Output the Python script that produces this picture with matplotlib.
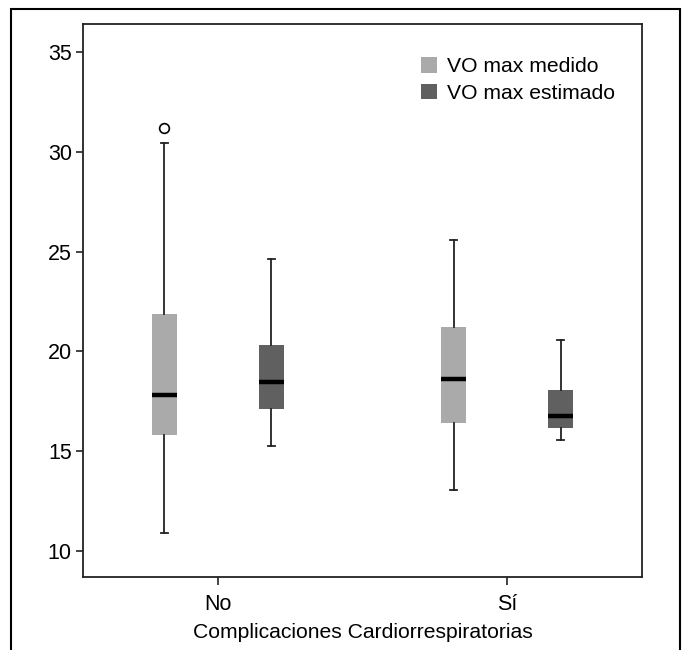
#!/usr/bin/env python3
"""Boxplot: VO max medido vs estimado por complicaciones cardiorrespiratorias."""

import matplotlib
matplotlib.use("Agg")
import matplotlib.pyplot as plt
from matplotlib.patches import Patch, Rectangle

plt.rcParams["font.family"] = ["Liberation Sans", "DejaVu Sans"]

categories = ["No", "Sí"]
series = ["VO max medido", "VO max estimado"]
colors = ["#aaaaaa", "#606060"]

# whislo, q1, med, q3, whishi per category
medido_stats = [
    [10.9, 15.8, 17.8, 21.85, 30.45],
    [13.05, 16.4, 18.6, 21.2, 25.57],
]
estimado_stats = [
    [15.25, 17.1, 18.45, 20.3, 24.65],
    [15.55, 16.17, 16.77, 18.05, 20.57],
]
medido_outliers = [[31.2], []]
estimado_outliers = [[], []]


def to_bxp(stats, outliers):
    out = []
    for (lo, q1, med, q3, hi), fl in zip(stats, outliers):
        out.append(dict(whislo=lo, q1=q1, med=med, q3=q3, whishi=hi, fliers=fl))
    return out


fig = plt.figure(figsize=(6.83, 6.5), dpi=100)
ax = fig.add_axes([0.1215, 0.1123, 0.8185, 0.8508])

offset = 0.185
width = 0.087
all_stats = [(medido_stats, medido_outliers), (estimado_stats, estimado_outliers)]
for i, (stats, outl) in enumerate(all_stats):
    pos = [k + (-offset if i == 0 else offset) for k in range(len(categories))]
    ax.bxp(
        to_bxp(stats, outl),
        positions=pos,
        widths=width,
        patch_artist=True,
        capwidths=0.022,
        boxprops=dict(facecolor=colors[i], edgecolor="none", linewidth=0),
        medianprops=dict(color="black", linewidth=3.2, solid_capstyle="butt"),
        whiskerprops=dict(color="#222222", linewidth=1.3),
        capprops=dict(color="#222222", linewidth=1.3),
        flierprops=dict(marker="o", markerfacecolor="white", markeredgecolor="black",
                        markersize=7, markeredgewidth=1.2),
        manage_ticks=False,
    )

ax.set_xlim(-0.467, 1.467)
ax.set_ylim(8.7, 36.4)
ax.set_xticks(range(len(categories)))
ax.set_xticklabels(categories)
ax.set_yticks([10, 15, 20, 25, 30, 35])
ax.tick_params(axis="both", direction="out", labelsize=15.5, width=1.2, color="#222222")
ax.tick_params(axis="y", length=5, pad=3)
ax.tick_params(axis="x", length=6, pad=6)
for sp in ax.spines.values():
    sp.set_linewidth(1.3)
    sp.set_color("#222222")
ax.set_xlabel("Complicaciones Cardiorrespiratorias", fontsize=15.2, labelpad=6)

handles = [Patch(facecolor=c, edgecolor="none", label=s) for c, s in zip(colors, series)]
ax.legend(handles=handles, loc="upper left", bbox_to_anchor=(0.605, 0.94),
          frameon=False, fontsize=15.2, borderpad=0, borderaxespad=0,
          handlelength=0.75, handleheight=0.75, handletextpad=0.45, labelspacing=0.35)

# outer frame around the figure (open at the bottom)
fig.patches.append(Rectangle((11 / 683, -0.05), (680 - 11) / 683, 1.05 - 9 / 650,
                             transform=fig.transFigure, fill=False,
                             edgecolor="black", linewidth=1.5))

fig.savefig("out.png", dpi=100)
